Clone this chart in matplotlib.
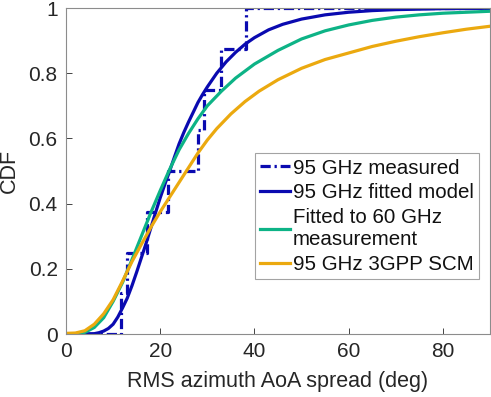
import numpy as np
import matplotlib.pyplot as plt

plt.rcParams['font.family'] = ['Liberation Sans', 'DejaVu Sans']

# measured empirical CDF (step edges)
meas_x = [0, 11.6, 13.0, 17.2, 21.7, 28.0, 29.3, 33.0, 38.3, 90]
meas_y = [0, 0.125, 0.25, 0.375, 0.5, 0.625, 0.75, 0.875, 1.0, 1.0]

# fitted model at 95 GHz
fit_x = [0, 6, 7, 8, 9, 10, 11, 12, 13, 14, 15, 16, 17, 18, 19, 20, 21, 22, 23, 24, 25, 26, 27, 28, 29, 30,
         32, 34, 36, 38, 40, 43, 46, 50, 55, 60, 65, 70, 80, 90]
fit_y = [0, 0.001, 0.004, 0.009, 0.017, 0.03, 0.052, 0.08, 0.11, 0.148, 0.19, 0.234, 0.278, 0.325, 0.372, 0.418,
         0.46, 0.5, 0.542, 0.583, 0.618, 0.65, 0.68, 0.71, 0.735, 0.758, 0.8, 0.835, 0.864, 0.889, 0.909, 0.933,
         0.95, 0.966, 0.979, 0.987, 0.992, 0.995, 0.998, 0.999]

# fitted to 60 GHz measurement
g60_x = [0, 2, 4, 6, 8, 10, 12, 14, 16, 18, 20, 22, 24, 26, 28, 30, 33, 36, 40, 45, 50, 55, 60, 65, 70, 75, 80, 85, 90]
g60_y = [0, 0.001, 0.005, 0.02, 0.05, 0.1, 0.158, 0.228, 0.3, 0.372, 0.44, 0.505, 0.565, 0.615, 0.66, 0.70,
         0.745, 0.785, 0.828, 0.87, 0.905, 0.93, 0.948, 0.962, 0.972, 0.979, 0.984, 0.987, 0.99]

# 3GPP SCM
scm_x = [0, 2, 4, 6, 8, 10, 12, 14, 16, 18, 20, 22, 24, 26, 28, 30, 32, 35, 38, 41, 45, 50, 55, 60, 65, 70, 75, 80, 85, 90]
scm_y = [0.002, 0.003, 0.01, 0.03, 0.062, 0.105, 0.162, 0.222, 0.275, 0.327, 0.375, 0.42, 0.465, 0.51, 0.555,
         0.595, 0.63, 0.675, 0.713, 0.745, 0.78, 0.815, 0.842, 0.862, 0.882, 0.898, 0.912, 0.924, 0.935, 0.944]

blue = '#0a0ab0'
green = '#0db386'
orange = '#eba90f'

fig = plt.figure(figsize=(4.91, 3.97), dpi=100)
ax = fig.add_axes([66 / 491, 1 - 334 / 397, (490 - 66) / 491, (334 - 8) / 397])

ax.step(meas_x, meas_y, where='post', color=blue, lw=2.3, dashes=[3.2, 1.2, 0.7, 1.2], label='95 GHz measured')
ax.plot(fit_x, fit_y, color=blue, lw=2.3, label='95 GHz fitted model')
ax.plot(g60_x, g60_y, color=green, lw=2.3, label='Fitted to 60 GHz\nmeasurement')
ax.plot(scm_x, scm_y, color=orange, lw=2.3, label='95 GHz 3GPP SCM')

ax.set_xlim(0, 90)
ax.set_ylim(0, 1)
ax.set_xticks([0, 20, 40, 60, 80])
ax.set_yticks([0, 0.2, 0.4, 0.6, 0.8, 1])
ax.set_yticklabels(['0', '0.2', '0.4', '0.6', '0.8', '1'])
ax.tick_params(direction='in', length=4, colors='#262626', labelsize=15, width=0.6, pad=6)
for s in ax.spines.values():
    s.set_color('#8c8c8c')
    s.set_linewidth(0.8)

ax.set_xlabel('RMS azimuth AoA spread (deg)', fontsize=15.5, color='#262626', labelpad=7)
ax.set_ylabel('CDF', fontsize=15.5, color='#262626', labelpad=6)

leg = ax.legend(loc='lower right', bbox_to_anchor=((479 - 66) / 424, (334 - 279) / 326),
                bbox_transform=ax.transAxes, fontsize=14.8, frameon=True, fancybox=False,
                handlelength=1.45, handletextpad=0.15, borderpad=0.25, labelspacing=0.28,
                borderaxespad=0)
leg.get_frame().set_edgecolor('#8c8c8c')
leg.get_frame().set_linewidth(0.8)
for t in leg.get_texts():
    t.set_color('#111111')

fig.savefig('out.png', dpi=100)
